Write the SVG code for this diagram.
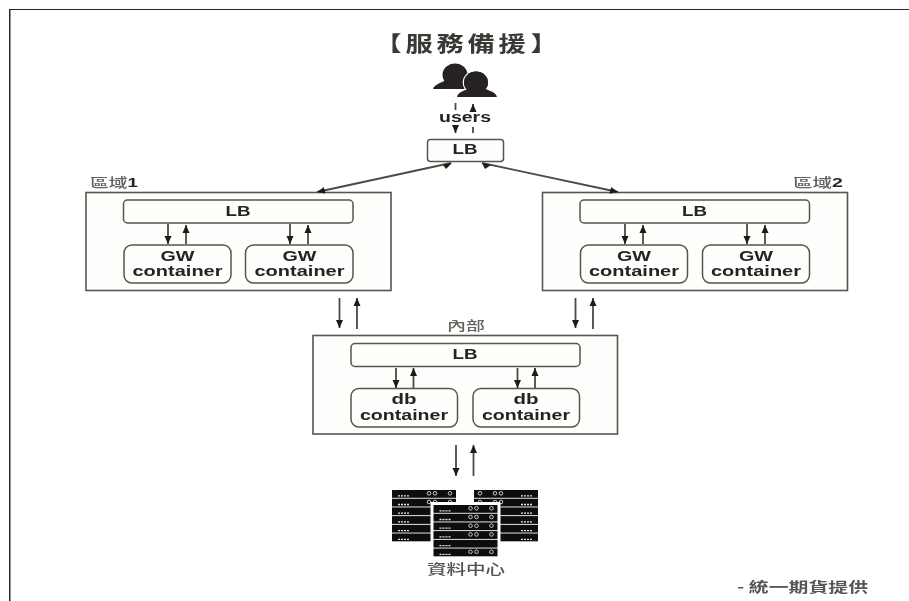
<svg xmlns="http://www.w3.org/2000/svg" width="909" height="601" viewBox="0 0 909 601">
<style>
.box{fill:#fefefd;stroke:#5b524c;stroke-width:1.6}
.in{fill:#fefefd;stroke:#5b524c;stroke-width:1.5}
.t{font-family:"Liberation Sans","Noto Sans CJK TC",sans-serif;font-weight:700;font-size:14.5px;fill:#262322;text-anchor:middle}
.c{font-family:"Noto Sans CJK TC","Liberation Sans",sans-serif;font-weight:500;fill:#66625f}
.a{fill:none;stroke:#4f4843;stroke-width:1.8}
</style>
<defs>
<marker id="h" markerUnits="userSpaceOnUse" markerWidth="10" markerHeight="8" refX="8" refY="4" orient="auto"><path d="M0 0.500L8 4L0 7.500Z" fill="#1c1a19"/></marker>
<g id="row"><rect width="64" height="7.800" fill="#0c0c0c"/><path d="M6 5.800H18" stroke="#e8e8e8" stroke-width="1.300" stroke-dasharray="2 1"/><circle cx="37" cy="3.300" r="1.800" fill="none" stroke="#ccc" stroke-width="1"/><circle cx="43" cy="3.300" r="1.800" fill="none" stroke="#ccc" stroke-width="1"/><circle cx="58" cy="3.300" r="1.800" fill="none" stroke="#ccc" stroke-width="1"/></g>
<g id="rowb"><rect width="64" height="7.800" fill="#0c0c0c"/><path d="M6 5.800H18" stroke="#e8e8e8" stroke-width="1.300" stroke-dasharray="2 1"/></g>
<filter id="soft" x="0" y="0" width="100%" height="100%"><feGaussianBlur stdDeviation="0.6"/></filter>
</defs>
<rect width="909" height="601" fill="#fff"/>
<g filter="url(#soft)">
<path d="M9.500 601V9H909" fill="none" stroke="#2a2725" stroke-width="2"/>
<text id="title" transform="translate(0 51) scale(1.3 1)" x="288 300 312 335.800 359.600 383.400 405 408" y="0" style="font-family:'Noto Sans CJK TC',sans-serif;font-weight:700;font-size:21px;fill:#3a3734">【 服務備援 】</text>

<g id="users" fill="#262322">
<ellipse cx="455" cy="75" rx="12.500" ry="11.500"/>
<path d="M433 89C434 84 444 82 447 79L465 80V89Z"/>
<g stroke="#fff" stroke-width="2.500" paint-order="stroke">
<ellipse cx="476" cy="82.500" rx="12" ry="11"/>
<path d="M457 97C458 91 468 90 470 87L483 87C485 90 496 91 497 97Z"/>
</g>
<ellipse cx="476" cy="82.500" rx="12" ry="11"/>
<text class="t" x="465" y="122" textLength="52" lengthAdjust="spacingAndGlyphs">users</text>
</g>

<g id="lb-top"><rect class="in" x="427.500" y="139.500" width="76" height="22" rx="3"/><text class="t" x="465" y="154" textLength="25" lengthAdjust="spacingAndGlyphs">LB</text></g>

<g id="region1">
<rect class="box" x="86" y="192.500" width="305" height="98"/>
<text class="c" x="90" y="186.500" font-size="13" textLength="48" lengthAdjust="spacingAndGlyphs">區域<tspan style="font-family:'Liberation Sans';font-weight:700;fill:#262322">1</tspan></text>
<rect class="in" x="123.500" y="200" width="229.500" height="23" rx="4"/><text class="t" x="238" y="215.500" textLength="25" lengthAdjust="spacingAndGlyphs">LB</text>
<rect class="in" x="124" y="245" width="107" height="38" rx="8"/><text class="t" x="177.500" y="261" textLength="34" lengthAdjust="spacingAndGlyphs">GW</text><text class="t" x="177.500" y="276" textLength="90" lengthAdjust="spacingAndGlyphs">container</text>
<rect class="in" x="245.500" y="245" width="107.500" height="38" rx="8"/><text class="t" x="299.500" y="261" textLength="34" lengthAdjust="spacingAndGlyphs">GW</text><text class="t" x="299.500" y="276" textLength="90" lengthAdjust="spacingAndGlyphs">container</text>
</g>

<g id="region2">
<rect class="box" x="542.500" y="192.500" width="305" height="98"/>
<text class="c" x="793" y="186.500" font-size="13" textLength="50" lengthAdjust="spacingAndGlyphs">區域<tspan style="font-family:'Liberation Sans';font-weight:700;fill:#262322">2</tspan></text>
<rect class="in" x="580" y="200" width="229.500" height="23" rx="4"/><text class="t" x="694.500" y="215.500" textLength="25" lengthAdjust="spacingAndGlyphs">LB</text>
<rect class="in" x="580.500" y="245" width="107" height="38" rx="8"/><text class="t" x="634" y="261" textLength="34" lengthAdjust="spacingAndGlyphs">GW</text><text class="t" x="634" y="276" textLength="90" lengthAdjust="spacingAndGlyphs">container</text>
<rect class="in" x="702.500" y="245" width="107" height="38" rx="8"/><text class="t" x="756" y="261" textLength="34" lengthAdjust="spacingAndGlyphs">GW</text><text class="t" x="756" y="276" textLength="90" lengthAdjust="spacingAndGlyphs">container</text>
</g>

<g id="internal">
<rect class="box" x="313" y="335.500" width="304.500" height="98.500"/>
<text class="c" x="447" y="329.500" font-size="13" textLength="38" lengthAdjust="spacingAndGlyphs">內部</text>
<rect class="in" x="351" y="343.500" width="229" height="23" rx="4"/><text class="t" x="465" y="359" textLength="25" lengthAdjust="spacingAndGlyphs">LB</text>
<rect class="in" x="351" y="388.500" width="106.500" height="38.500" rx="8"/><text class="t" x="404" y="404" textLength="25" lengthAdjust="spacingAndGlyphs">db</text><text class="t" x="404" y="419.500" textLength="88" lengthAdjust="spacingAndGlyphs">container</text>
<rect class="in" x="473" y="388.500" width="106.500" height="38.500" rx="8"/><text class="t" x="526" y="404" textLength="25" lengthAdjust="spacingAndGlyphs">db</text><text class="t" x="526" y="419.500" textLength="88" lengthAdjust="spacingAndGlyphs">container</text>
</g>

<g id="datacenter">
<use href="#row" x="392" y="490"/><use href="#row" x="392" y="498.700"/><use href="#rowb" x="392" y="507.400"/><use href="#rowb" x="392" y="516.100"/><use href="#rowb" x="392" y="524.800"/><use href="#rowb" x="392" y="533.500"/>
<use href="#row" transform="translate(538 490) scale(-1 1)"/><use href="#row" transform="translate(538 498.700) scale(-1 1)"/><use href="#rowb" transform="translate(538 507.400) scale(-1 1)"/><use href="#rowb" transform="translate(538 516.100) scale(-1 1)"/><use href="#rowb" transform="translate(538 524.800) scale(-1 1)"/><use href="#rowb" transform="translate(538 533.500) scale(-1 1)"/>
<rect x="430.500" y="502" width="70" height="58" fill="#fff"/>
<use href="#row" x="433.500" y="505"/><use href="#row" x="433.500" y="513.700"/><use href="#row" x="433.500" y="522.400"/><use href="#row" x="433.500" y="531.100"/><use href="#rowb" x="433.500" y="539.800"/><use href="#row" x="433.500" y="548.500"/>
<text class="c" x="427" y="574" font-size="14" textLength="78" lengthAdjust="spacingAndGlyphs" style="fill:#55524f">資料中心</text>
</g>

<text id="credit" class="c" x="737" y="592" font-size="14" textLength="131" lengthAdjust="spacingAndGlyphs" style="fill:#5a5754;font-weight:700">- 統一期貨提供</text>

<g id="connectors">
<line class="a" x1="455.500" y1="103" x2="455.500" y2="133" stroke-dasharray="7 17 6" marker-end="url(#h)"/>
<line class="a" x1="473" y1="133" x2="473" y2="104" stroke-dasharray="6 17 7" marker-end="url(#h)"/>
<line class="a" x1="451" y1="163" x2="317" y2="192" marker-end="url(#h)"/>
<path d="M443 164.800L452 163L446 169Z" fill="#1c1a19"/>
<line class="a" x1="482" y1="163" x2="618" y2="192" marker-end="url(#h)"/>
<path d="M482 163L491 165L485 169Z" fill="#1c1a19"/>
<line class="a" x1="168" y1="224" x2="168" y2="244" marker-end="url(#h)"/><line class="a" x1="186" y1="244" x2="186" y2="225" marker-end="url(#h)"/>
<line class="a" x1="290" y1="224" x2="290" y2="244" marker-end="url(#h)"/><line class="a" x1="308" y1="244" x2="308" y2="225" marker-end="url(#h)"/>
<line class="a" x1="625" y1="224" x2="625" y2="244" marker-end="url(#h)"/><line class="a" x1="643" y1="244" x2="643" y2="225" marker-end="url(#h)"/>
<line class="a" x1="747" y1="224" x2="747" y2="244" marker-end="url(#h)"/><line class="a" x1="765" y1="244" x2="765" y2="225" marker-end="url(#h)"/>
<line class="a" x1="396" y1="368" x2="396" y2="388" marker-end="url(#h)"/><line class="a" x1="413.500" y1="388" x2="413.500" y2="368" marker-end="url(#h)"/>
<line class="a" x1="517.500" y1="368" x2="517.500" y2="388" marker-end="url(#h)"/><line class="a" x1="535" y1="388" x2="535" y2="368" marker-end="url(#h)"/>
<line class="a" x1="339.500" y1="298" x2="339.500" y2="328" marker-end="url(#h)"/><line class="a" x1="357" y1="329" x2="357" y2="298" marker-end="url(#h)"/>
<line class="a" x1="575.500" y1="298" x2="575.500" y2="328" marker-end="url(#h)"/><line class="a" x1="593" y1="329" x2="593" y2="298" marker-end="url(#h)"/>
<line class="a" x1="456" y1="445" x2="456" y2="476" marker-end="url(#h)"/><line class="a" x1="473.500" y1="476" x2="473.500" y2="445" marker-end="url(#h)"/>
</g>
</g>
</svg>
